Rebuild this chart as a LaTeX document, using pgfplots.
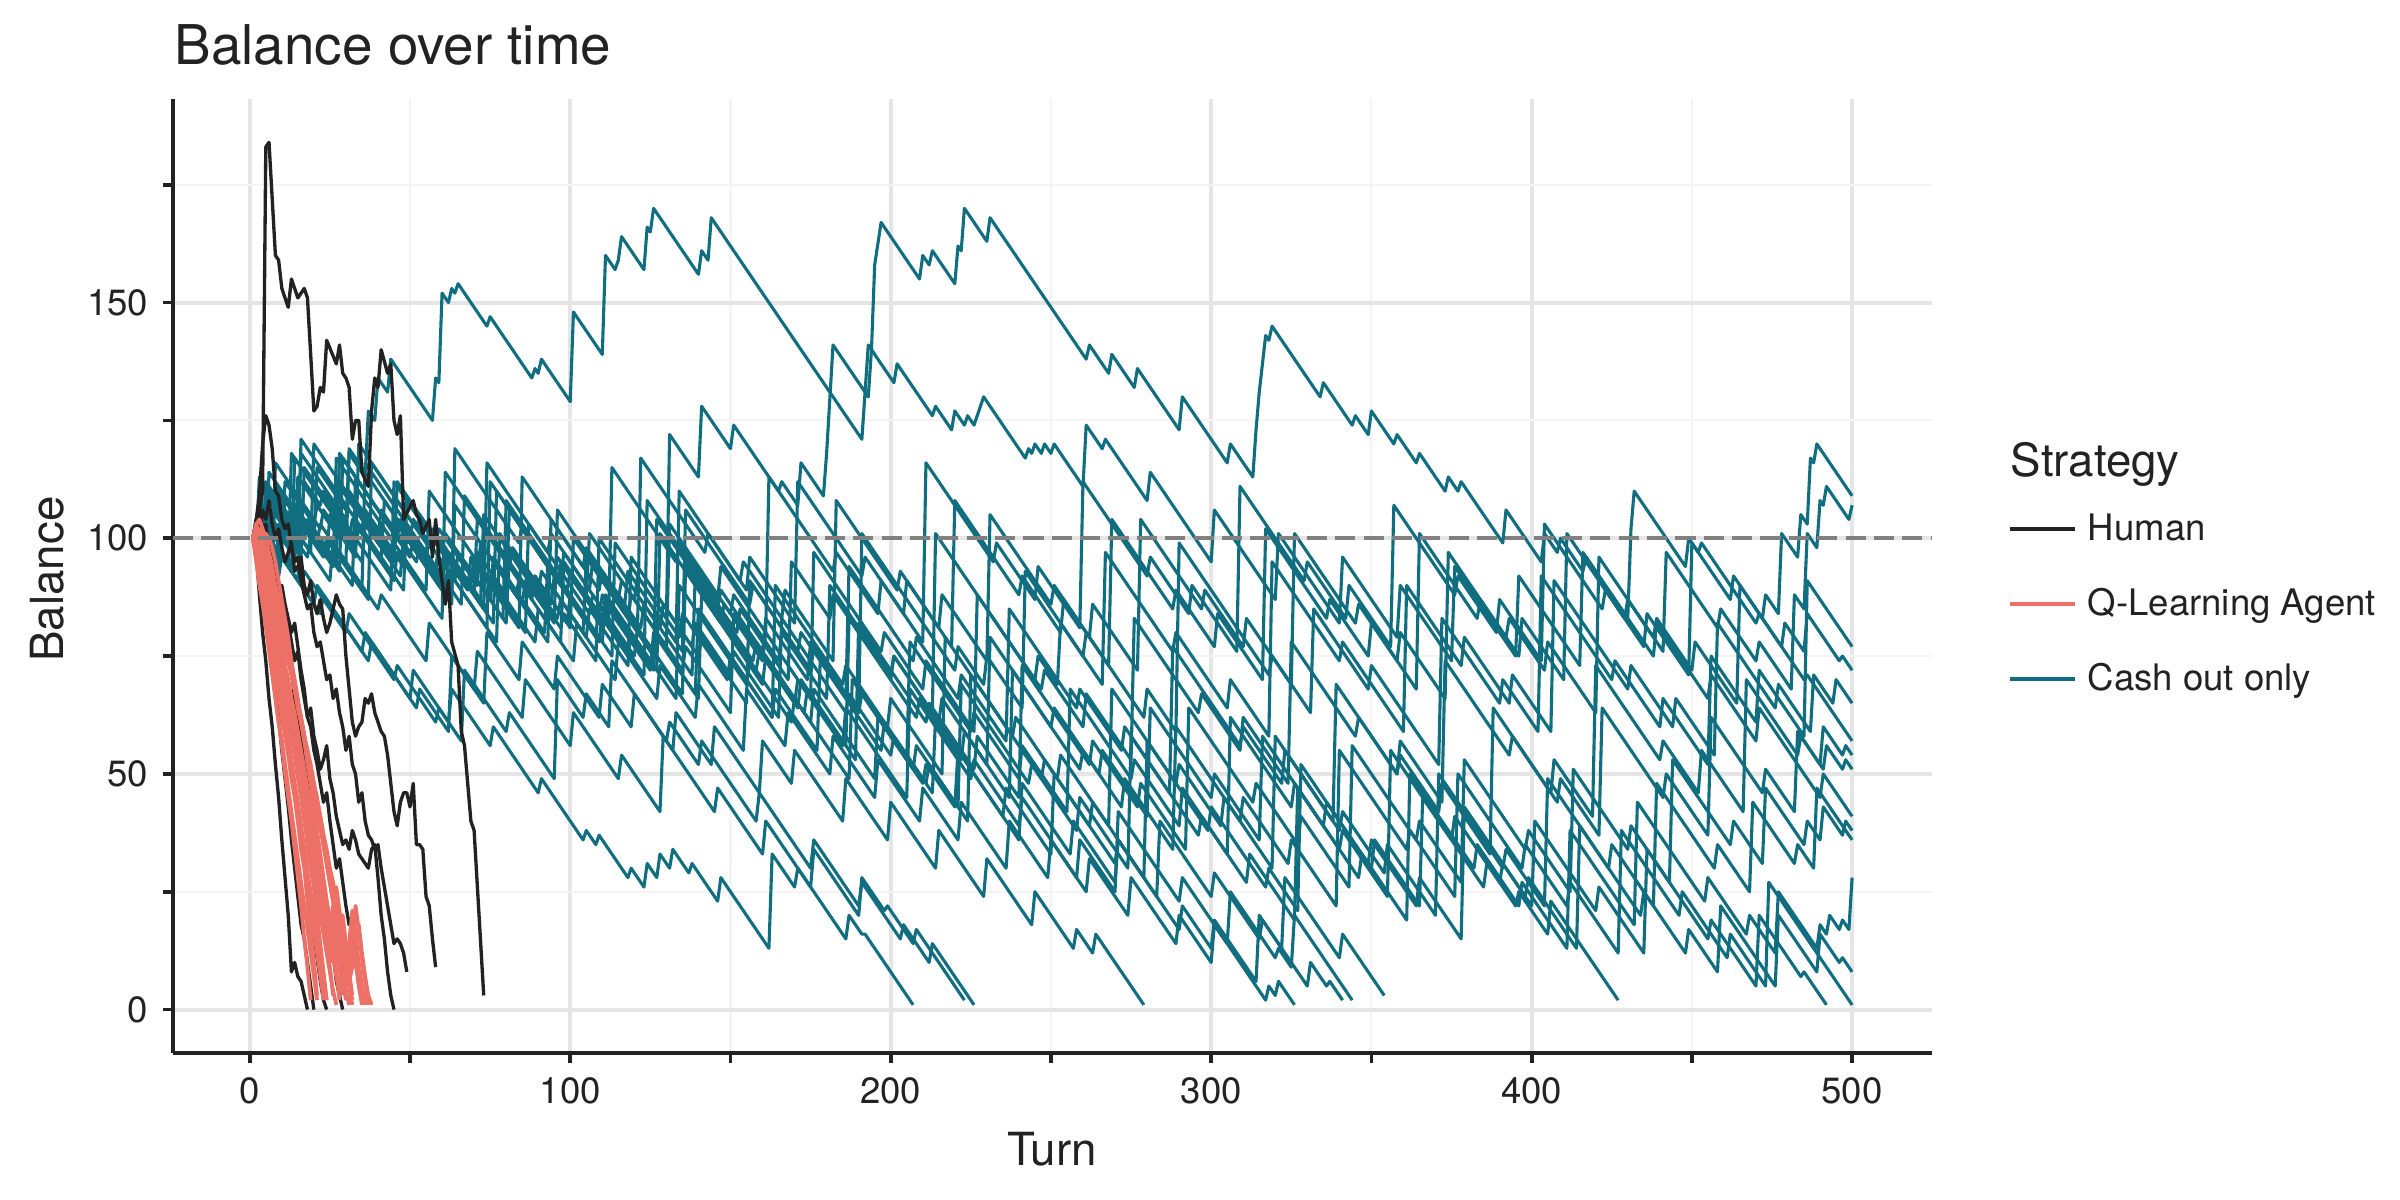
\documentclass[border=0pt]{standalone}
\usepackage{pgfplots}
\pgfplotsset{compat=1.18}
\usepackage{fontspec}
\setmainfont{TeX Gyre Heros}
\definecolor{cteal}{RGB}{16,110,128}
\definecolor{csalmon}{RGB}{236,112,102}
\definecolor{cblack}{RGB}{34,34,34}
\definecolor{cgrid}{RGB}{229,229,229}
\definecolor{cminor}{RGB}{244,244,244}
\definecolor{cdash}{RGB}{128,128,128}
\pgfplotsset{
  cash/.style={cteal, line width=0.75pt, line join=round, forget plot},
  human/.style={cblack, line width=0.8pt, line join=round, forget plot},
  qlearn/.style={csalmon, line width=0.9pt, line join=round, forget plot},
}
\begin{document}
\begin{tikzpicture}
\path[use as bounding box] (0,0) rectangle (20.32cm,10.16cm);
\begin{axis}[
  at={(1.465cm,1.245cm)}, anchor=south west,
  width=14.893cm, height=8.077cm, scale only axis,
  xmin=-23.95, xmax=524.95, ymin=-9.2, ymax=193.2,
  axis x line*=bottom, axis y line*=left,
  axis line style={line width=1.1pt, draw=cblack, -},
  xtick={0,100,200,300,400,500}, minor xtick={50,150,250,350,450},
  ytick={0,50,100,150}, minor ytick={25,75,125,175},
  grid=both,
  major grid style={line width=1pt, draw=cgrid},
  minor grid style={line width=0.5pt, draw=cminor},
  tick align=outside,
  major tick length=2.5pt, minor tick length=2.5pt,
  every tick/.style={line width=0.9pt, draw=cblack},
  ticklabel style={font=\fontsize{8.8}{10}\selectfont, text=cblack},
  /pgf/number format/assume math mode=true,
  legend style={at={(axis description cs:1.0433,0.5748)}, anchor=north west,
    draw=none, fill=none, inner sep=0pt, outer sep=0pt,
    font=\fontsize{8.8}{10}\selectfont, text=cblack,
    nodes={inner sep=0pt, text height=0.3cm, text depth=0.335cm},
    /tikz/every odd column/.style={column sep=0.093cm}, row sep=0pt},
  legend cell align=left,
  legend image code/.code={\draw[#1] (0cm,0.11cm) -- (0.55cm,0.11cm);},
]
\addlegendimage{cblack, line width=0.9pt}\addlegendentry{Human}
\addlegendimage{csalmon, line width=0.9pt}\addlegendentry{Q-Learning Agent}
\addlegendimage{cteal, line width=0.9pt}\addlegendentry{Cash out only}

% ---------------- Cash out only ----------------
\addplot[cash] coordinates {(1,100)(5,96)(6,104)(10,100)(11,108)(16,103)(17,112)(22,107)(23,110)(30,103)(31,118)(36,113)(37,127)(39,125)(40,134)(43,131)(44,138)(57,125)(58,134)(59,133)(60,152)(62,150)(63,153)(64,152)(65,154)(74,145)(75,147)(88,134)(89,136)(90,135)(91,138)(100,129)(101,148)(110,139)(111,160)(114,157)(115,159)(116,164)(123,157)(124,166)(125,165)(126,170)(140,156)(141,161)(143,159)(144,168)(191,121)(192,131)(193,130)(194,140)(195,158)(197,167)(209,155)(210,160)(212,158)(213,161)(220,154)(221,162)(222,161)(223,170)(230,163)(231,168)(261,138)(262,141)(268,135)(269,139)(276,132)(277,136)(290,123)(291,130)(305,116)(306,120)(313,113)(314,123)(315,131)(317,143)(318,142)(319,145)(334,130)(335,133)(344,124)(345,126)(349,122)(350,127)(357,120)(358,122)(364,116)(365,118)(373,110)(374,113)(377,110)(378,112)(391,99)(392,106)(403,95)(404,101)(408,97)(409,100)(416,93)(417,96)(438,75)(439,82)(455,66)(456,71)(470,57)(471,64)(490,45)(491,50)(500,41)};
\addplot[cash] coordinates {(1,100)(4,97)(5,109)(12,102)(13,106)(20,99)(21,115)(30,106)(31,110)(45,96)(46,104)(58,92)(59,99)(70,88)(71,97)(80,88)(81,106)(95,92)(96,96)(105,87)(106,101)(120,87)(121,92)(130,83)(131,122)(140,113)(141,128)(150,119)(151,124)(165,110)(166,112)(171,107)(172,116)(179,109)(180,118)(182,141)(192,131)(193,141)(201,133)(202,137)(213,126)(214,128)(219,123)(220,127)(223,124)(224,126)(226,124)(229,130)(242,117)(243,119)(244,118)(245,120)(247,118)(248,120)(250,118)(251,120)(260,111)(261,124)(266,119)(267,121)(280,108)(281,114)(300,95)(301,106)(320,87)(321,101)(340,82)(341,96)(358,79)(359,90)(375,74)(376,94)(395,75)(396,92)(415,73)(416,97)(430,83)(431,102)(432,110)(448,94)(449,100)(452,97)(453,99)(470,82)(471,84)(485,70)(486,71)(500,57)};
\addplot[cash] coordinates {(1,100)(8,93)(9,97)(20,86)(21,90)(35,76)(36,80)(50,66)(51,72)(62,61)(63,68)(75,56)(76,60)(90,46)(91,49)(104,36)(105,38)(108,35)(109,37)(118,28)(119,30)(123,26)(124,31)(127,28)(128,33)(131,30)(132,34)(137,29)(138,31)(146,23)(147,28)(162,13)(163,33)(170,26)(171,30)(186,15)(187,20)(191,16)(192,16)(207,1)};
\addplot[cash] coordinates {(1,100)(6,95)(7,103)(14,96)(15,101)(25,91)(26,99)(40,85)(41,88)(55,74)(56,82)(70,68)(71,76)(85,62)(86,70)(100,56)(101,63)(115,49)(116,54)(128,42)(129,58)(145,42)(146,47)(160,33)(161,40)(175,26)(176,34)(190,20)(191,28)(198,21)(199,22)(207,14)(208,17)(223,2)};
\addplot[cash] coordinates {(1,100)(3,98)(4,102)(16,90)(17,93)(30,80)(31,84)(45,70)(46,73)(58,61)(59,64)(66,57)(67,72)(80,59)(81,63)(95,49)(96,70)(104,62)(105,67)(112,60)(113,74)(130,57)(131,61)(140,52)(141,57)(158,40)(159,46)(175,30)(176,36)(190,22)(191,27)(203,15)(204,18)(212,10)(213,14)(226,1)};
\addplot[cash] coordinates {(1,100)(9,92)(10,96)(22,84)(23,88)(37,74)(38,78)(52,64)(53,68)(62,59)(63,75)(73,65)(74,80)(84,70)(85,78)(95,68)(96,75)(109,62)(110,69)(119,60)(120,67)(132,55)(133,63)(144,52)(145,60)(159,46)(160,57)(169,48)(170,55)(185,40)(186,49)(199,36)(200,44)(214,30)(215,38)(229,24)(230,32)(244,18)(245,25)(257,13)(258,17)(263,12)(264,16)(279,1)};
\addplot[cash] coordinates {(1,100)(5,96)(6,105)(13,98)(14,106)(24,96)(25,105)(35,95)(36,103)(47,92)(48,101)(61,88)(62,97)(74,85)(75,92)(89,78)(90,85)(101,74)(102,82)(114,70)(115,78)(127,66)(128,73)(139,62)(140,69)(154,55)(155,68)(167,56)(168,63)(181,50)(182,58)(195,45)(196,53)(209,40)(210,47)(221,36)(222,44)(236,30)(237,40)(249,28)(250,36)(261,25)(262,32)(274,20)(275,28)(289,14)(290,20)(300,10)(301,18)(317,2)(318,5)(320,3)(321,6)(326,1)};
\addplot[cash] coordinates {(1,100)(4,97)(5,110)(15,100)(16,118)(30,104)(31,109)(45,95)(46,112)(60,98)(61,101)(75,87)(76,96)(92,80)(93,95)(110,78)(111,86)(125,72)(126,80)(140,66)(141,88)(160,69)(161,75)(175,61)(176,68)(195,49)(196,62)(210,48)(211,52)(220,43)(221,55)(240,36)(241,48)(256,33)(257,40)(270,27)(271,36)(290,17)(291,22)(300,13)(301,19)(314,6)(315,20)(330,5)(331,10)(336,5)(337,6)(341,2)};
\addplot[cash] coordinates {(1,100)(7,94)(8,116)(22,102)(23,106)(33,96)(34,120)(52,102)(53,105)(70,88)(71,104)(88,87)(89,92)(100,81)(101,100)(118,83)(119,88)(135,72)(136,77)(150,63)(151,84)(170,65)(171,70)(185,56)(186,64)(205,45)(206,68)(225,49)(226,53)(240,39)(241,45)(258,28)(259,36)(270,25)(271,42)(290,23)(291,28)(305,14)(306,25)(320,11)(321,13)(325,9)(326,20)(344,2)};
\addplot[cash] coordinates {(1,100)(3,98)(4,104)(10,98)(11,112)(20,103)(21,107)(28,100)(29,117)(45,101)(46,104)(60,90)(61,97)(72,86)(73,105)(90,88)(91,93)(105,79)(106,85)(118,73)(119,96)(138,77)(139,82)(150,71)(151,76)(165,62)(166,83)(186,63)(187,67)(200,54)(201,58)(213,46)(214,62)(235,41)(236,47)(250,33)(251,50)(270,31)(271,36)(283,24)(284,40)(300,24)(301,29)(315,15)(316,19)(322,13)(323,28)(340,11)(341,16)(354,3)};
\addplot[cash] coordinates {(1,100)(5,96)(6,108)(18,96)(19,101)(26,94)(27,112)(40,99)(41,103)(55,89)(56,110)(72,94)(73,98)(85,86)(86,91)(95,82)(96,106)(115,87)(116,91)(130,77)(131,103)(150,84)(151,88)(165,74)(166,80)(180,66)(181,90)(200,71)(201,75)(215,61)(216,66)(230,52)(231,79)(250,60)(251,64)(265,50)(266,55)(280,41)(281,64)(300,45)(301,50)(315,36)(316,58)(335,39)(336,44)(350,30)(351,36)(365,22)(366,45)(385,26)(386,31)(395,22)(396,25)(405,16)(406,23)(427,2)};
\addplot[cash] coordinates {(1,100)(8,93)(9,103)(16,96)(17,115)(33,99)(34,103)(48,89)(49,108)(66,91)(67,95)(80,82)(81,97)(97,81)(98,84)(108,74)(109,100)(128,81)(129,86)(140,75)(141,79)(155,65)(156,91)(175,72)(176,77)(190,63)(191,67)(205,53)(206,78)(225,59)(226,63)(240,49)(241,56)(255,42)(256,68)(275,49)(276,53)(290,39)(291,47)(305,33)(306,62)(325,43)(326,48)(340,34)(341,38)(355,24)(356,55)(375,36)(376,41)(390,27)(391,31)(400,22)(401,40)(420,21)(421,26)(435,12)(436,34)(455,15)(456,19)(470,5)(471,20)(484,7)(485,8)(492,1)};
\addplot[cash] coordinates {(1,100)(3,98)(4,106)(14,96)(15,113)(27,101)(28,105)(44,89)(45,112)(58,99)(59,102)(71,90)(72,99)(93,78)(94,104)(109,89)(110,93)(122,81)(123,86)(138,71)(139,92)(157,74)(158,78)(173,63)(174,68)(186,56)(187,83)(208,62)(209,66)(222,53)(223,59)(237,45)(238,72)(259,51)(260,55)(272,43)(273,49)(288,34)(289,60)(309,40)(310,45)(324,31)(325,36)(339,22)(340,55)(361,34)(362,38)(376,24)(377,50)(397,30)(398,35)(411,22)(412,27)(427,12)(428,38)(446,20)(447,25)(461,11)(462,16)(473,5)(474,27)(500,1)};
\addplot[cash] coordinates {(1,100)(6,95)(7,99)(13,93)(14,117)(33,98)(34,102)(41,95)(42,108)(61,89)(62,93)(77,78)(78,101)(96,83)(97,87)(104,80)(105,96)(126,75)(127,79)(139,67)(140,85)(163,62)(164,68)(177,55)(178,74)(197,55)(198,61)(211,48)(212,52)(224,40)(225,71)(247,49)(248,53)(262,39)(263,44)(279,28)(280,57)(299,38)(300,43)(317,26)(318,30)(327,21)(328,52)(349,31)(350,36)(364,22)(365,28)(378,15)(379,43)(398,24)(399,28)(414,13)(415,39)(434,20)(435,25)(448,12)(449,17)(458,8)(459,22)(476,5)(477,20)(489,8)(490,16)(496,10)(497,11)(500,8)};
\addplot[cash] coordinates {(1,100)(4,97)(5,112)(17,100)(18,104)(32,90)(33,113)(50,96)(51,100)(63,88)(64,107)(83,88)(84,91)(97,78)(98,95)(118,75)(119,80)(133,66)(134,90)(155,69)(156,74)(169,61)(170,66)(187,49)(188,70)(207,51)(208,56)(221,43)(222,69)(243,48)(244,52)(258,38)(259,45)(274,30)(275,58)(296,37)(297,41)(311,27)(312,33)(326,19)(327,47)(346,28)(347,33)(361,19)(362,50)(382,30)(383,35)(396,22)(397,27)(411,13)(412,38)(432,18)(433,44)(454,23)(455,28)(467,16)(468,20)(476,12)(477,25)(489,13)(490,18)(492,16)(493,20)(496,17)(497,19)(499,17)(500,28)};
\addplot[cash] coordinates {(1,100)(2,99)(3,108)(11,100)(12,104)(19,97)(20,120)(40,100)(41,106)(52,95)(53,99)(66,86)(67,109)(88,88)(89,92)(99,82)(100,88)(113,75)(114,99)(134,79)(135,84)(149,70)(150,75)(163,62)(164,90)(185,69)(186,73)(199,60)(200,66)(216,50)(217,79)(238,58)(239,62)(252,49)(253,54)(268,39)(269,68)(289,48)(290,52)(303,39)(304,45)(319,30)(320,58)(340,38)(341,42)(354,29)(355,35)(370,20)(371,50)(391,30)(392,34)(404,22)(405,49)(424,30)(425,35)(438,22)(439,48)(457,30)(458,35)(468,25)(469,44)(482,31)(483,35)(488,30)(489,47)(500,36)};
\addplot[cash] coordinates {(1,100)(9,92)(10,110)(24,96)(25,99)(37,87)(38,116)(56,98)(57,102)(69,90)(70,96)(86,80)(87,103)(106,84)(107,88)(120,75)(121,81)(135,67)(136,94)(158,72)(159,76)(171,64)(172,70)(189,53)(190,82)(211,61)(212,65)(226,51)(227,58)(240,45)(241,73)(262,52)(263,57)(277,43)(278,48)(292,34)(293,64)(313,44)(314,48)(327,35)(328,41)(343,26)(344,56)(364,36)(365,40)(378,27)(379,53)(398,34)(399,38)(412,25)(413,51)(430,34)(431,39)(443,27)(444,53)(462,35)(463,40)(472,31)(473,47)(485,35)(486,40)(490,36)(491,43)(497,37)(498,40)(500,38)};
\addplot[cash] coordinates {(1,100)(8,93)(9,97)(15,91)(16,104)(26,94)(27,117)(45,99)(46,103)(59,90)(60,95)(74,81)(75,112)(96,91)(97,95)(109,83)(110,88)(126,72)(127,84)(135,76)(136,106)(156,86)(157,90)(171,76)(172,80)(186,66)(187,94)(207,74)(208,79)(221,66)(222,71)(236,57)(237,85)(258,64)(259,68)(272,55)(273,60)(287,46)(288,77)(309,56)(310,60)(322,48)(323,55)(338,40)(339,69)(358,50)(359,54)(371,42)(372,48)(387,33)(388,64)(408,44)(409,49)(421,37)(422,64)(441,45)(442,50)(455,37)(456,62)(472,46)(473,51)(482,42)(483,59)(491,51)(492,56)(497,51)(498,53)(500,51)};
\addplot[cash] coordinates {(1,100)(5,96)(6,114)(21,99)(22,103)(30,95)(31,119)(50,100)(51,104)(64,91)(65,97)(79,83)(80,108)(99,89)(100,93)(111,82)(112,87)(127,72)(128,101)(147,82)(148,86)(160,74)(161,80)(175,66)(176,97)(197,76)(198,80)(210,68)(211,74)(226,59)(227,88)(247,68)(248,72)(260,60)(261,67)(275,53)(276,83)(296,63)(297,67)(309,55)(310,62)(324,48)(325,78)(345,58)(346,62)(358,50)(359,57)(372,44)(373,74)(393,54)(394,58)(406,46)(407,53)(419,41)(420,73)(440,53)(441,57)(452,46)(453,55)(466,42)(467,70)(483,54)(484,58)(490,52)(491,60)(497,54)(498,56)(500,54)};
\addplot[cash] coordinates {(1,100)(4,97)(5,101)(12,94)(13,118)(31,100)(32,104)(45,91)(46,97)(60,83)(61,114)(81,94)(82,98)(94,86)(95,92)(109,78)(110,84)(123,71)(124,108)(152,80)(153,85)(168,70)(169,95)(181,83)(182,88)(200,70)(201,75)(213,63)(214,101)(245,70)(246,75)(252,69)(253,82)(266,69)(267,97)(288,76)(289,80)(305,64)(306,70)(318,58)(319,95)(340,74)(341,78)(360,59)(361,90)(378,73)(379,79)(393,65)(394,71)(406,59)(407,91)(430,68)(431,73)(444,60)(445,66)(457,54)(458,82)(476,64)(477,69)(487,59)(488,71)(494,65)(495,70)(500,65)};
\addplot[cash] coordinates {(1,100)(7,94)(8,111)(23,96)(24,100)(35,89)(36,116)(55,97)(56,101)(68,89)(69,96)(84,81)(85,113)(104,94)(105,98)(117,86)(118,93)(133,78)(134,110)(153,91)(154,95)(166,83)(167,89)(182,74)(183,108)(202,89)(203,93)(215,81)(216,88)(230,74)(231,105)(250,86)(251,90)(262,79)(263,86)(277,72)(278,104)(297,85)(298,89)(310,77)(311,83)(325,69)(326,101)(345,82)(346,86)(358,74)(359,80)(373,66)(374,97)(392,79)(393,83)(404,72)(405,78)(420,63)(421,96)(438,79)(439,83)(450,72)(451,78)(464,65)(465,90)(478,77)(479,82)(485,76)(486,84)(496,74)(497,75)(500,72)};
\addplot[cash] coordinates {(1,100)(3,98)(4,112)(16,100)(17,104)(28,93)(29,117)(47,99)(48,103)(62,89)(63,95)(76,82)(77,110)(97,90)(98,94)(110,82)(111,88)(126,73)(127,104)(146,85)(147,89)(160,76)(161,83)(174,70)(175,78)(190,63)(191,101)(220,72)(221,77)(229,69)(230,75)(241,64)(242,93)(260,75)(261,80)(279,62)(280,68)(289,59)(290,99)(318,71)(319,75)(331,63)(332,85)(349,68)(350,73)(371,52)(372,83)(390,65)(391,70)(402,59)(403,92)(425,70)(426,74)(440,60)(441,66)(455,52)(456,75)(470,61)(471,72)(485,58)(486,91)(500,77)};
\addplot[cash] coordinates {(1,100)(6,95)(7,106)(15,98)(16,121)(35,102)(36,106)(48,94)(49,100)(63,86)(64,119)(84,99)(85,103)(97,91)(98,97)(112,83)(113,115)(133,95)(134,99)(146,87)(147,94)(161,80)(162,113)(182,93)(183,97)(196,84)(197,91)(210,78)(211,116)(232,95)(233,99)(245,87)(246,94)(259,81)(260,112)(280,92)(281,96)(293,84)(294,90)(308,76)(309,111)(329,91)(330,95)(342,83)(343,90)(356,77)(357,107)(376,88)(377,92)(389,80)(390,87)(403,74)(404,103)(422,85)(423,89)(435,77)(436,84)(449,71)(450,99)(462,87)(463,92)(472,83)(473,88)(477,84)(478,101)(483,96)(484,105)(486,103)(487,117)(488,116)(489,120)(500,109)};
\addplot[cash] coordinates {(1,100)(2,99)(3,113)(14,102)(15,106)(27,94)(28,118)(46,100)(47,104)(58,93)(59,99)(73,85)(74,116)(93,97)(94,101)(106,89)(107,95)(121,81)(122,117)(142,97)(143,101)(155,89)(156,96)(170,82)(171,112)(191,92)(192,96)(204,84)(205,91)(219,77)(220,108)(240,88)(241,92)(253,80)(254,87)(268,73)(269,104)(288,85)(289,89)(301,77)(302,84)(316,70)(317,102)(336,83)(337,87)(349,75)(350,82)(364,68)(365,101)(383,83)(384,87)(396,75)(397,83)(410,70)(411,101)(429,83)(430,87)(441,76)(442,97)(458,81)(459,85)(470,74)(471,78)(481,68)(482,88)(485,85)(486,101)(489,98)(490,108)(491,107)(492,111)(499,104)(500,107)};

% ---------------- Human ----------------
\addplot[human] coordinates {(1,100)(2,103)(3,106)(4,110)(5,183)(6,184)(8,160)(9,159)(10,153)(12,149)(13,155)(15,151)(17,153)(18,151)(20,127)(21,128)(22,132)(23,131)(24,142)(27,137)(28,141)(29,135)(30,134)(31,132)(32,121)(33,125)(34,125)(35,114)(37,111)(38,127)(39,134)(40,132)(41,140)(43,135)(44,137)(45,125)(46,122)(47,126)(48,104)(51,108)(52,105)(53,104)(54,101)(56,104)(57,96)(58,104)(59,96)(61,86)(62,91)(63,78)(65,73)(66,59)(67,56)(69,40)(70,38)(73,3)};
\addplot[human] coordinates {(1,100)(2,104)(3,109)(4,120)(5,126)(6,124)(7,119)(8,110)(9,109)(10,104)(11,102)(12,103)(13,98)(14,95)(15,96)(16,91)(17,88)(18,85)(19,86)(20,80)(21,77)(22,78)(23,74)(24,70)(25,71)(26,66)(27,68)(28,63)(29,60)(30,55)(31,58)(32,52)(33,50)(34,44)(35,46)(36,40)(37,37)(38,36)(39,34)(40,35)(41,30)(42,26)(43,22)(44,18)(45,14)(46,15)(47,14)(48,12)(49,8)};
\addplot[human] coordinates {(1,100)(2,103)(3,101)(4,106)(5,104)(6,108)(7,103)(8,100)(9,102)(10,98)(11,95)(12,97)(13,99)(14,93)(15,94)(16,96)(17,90)(18,88)(19,91)(20,86)(21,84)(22,87)(23,83)(24,80)(25,82)(26,85)(27,88)(28,86)(29,85)(30,75)(31,68)(32,61)(33,58)(34,60)(35,61)(36,66)(37,65)(38,67)(39,63)(40,61)(41,59)(42,58)(43,54)(44,48)(45,42)(46,39)(47,44)(48,46)(49,46)(50,43)(51,48)(52,35)(53,35)(54,34)(55,24)(56,22)(57,15)(58,9)};
\addplot[human] coordinates {(1,100)(2,97)(3,102)(4,98)(5,94)(6,96)(7,91)(8,88)(9,90)(10,85)(11,80)(12,82)(13,78)(14,74)(15,76)(16,70)(17,66)(18,62)(19,64)(20,58)(21,55)(22,51)(23,53)(24,56)(25,49)(26,46)(27,41)(28,38)(29,35)(30,36)(31,34)(32,38)(33,36)(34,33)(35,32)(36,31)(37,30)(38,34)(39,35)(40,28)(41,20)(42,15)(43,8)(44,3)(45,0)};
\addplot[human] coordinates {(1,100)(2,97)(3,88)(4,80)(5,74)(6,66)(7,60)(8,52)(9,45)(10,36)(11,28)(12,20)(13,8)(14,10)(15,7)(16,6)(17,3)(18,0)};
\addplot[human] coordinates {(1,100)(2,103)(3,98)(4,92)(5,86)(6,80)(7,75)(8,69)(9,62)(10,55)(11,49)(12,43)(13,36)(14,30)(15,24)(16,18)(17,15)(18,10)(19,5)(20,0)};
\addplot[human] coordinates {(1,100)(2,104)(3,99)(4,95)(5,92)(6,86)(7,82)(8,77)(9,72)(10,68)(11,63)(12,57)(13,52)(14,47)(15,43)(16,37)(17,32)(18,27)(19,22)(20,16)(21,11)(22,6)(23,2)(24,0)};
\addplot[human] coordinates {(1,100)(2,102)(3,106)(4,100)(5,103)(6,98)(7,96)(8,91)(9,88)(10,84)(11,79)(12,76)(13,72)(14,66)(15,61)(16,58)(17,53)(18,48)(19,44)(20,38)(21,33)(22,28)(23,26)(24,20)(25,14)(26,12)(27,6)(28,3)(29,0)};
\addplot[human] coordinates {(1,100)(2,101)(3,97)(4,103)(5,99)(6,95)(7,97)(8,92)(9,88)(10,90)(11,86)(12,83)(13,80)(14,82)(15,77)(16,72)(17,68)(18,62)(19,60)(20,55)(21,52)(22,48)(23,44)(24,46)(25,40)(26,35)(27,30)(28,32)(29,27)(30,22)(31,18)(32,20)(33,14)(34,9)(35,4)(36,1)};

% ---------------- Q-Learning Agent ----------------
\addplot[qlearn] coordinates {(1,100)(2,97)(3,92)(4,87)(5,83)(6,77)(7,72)(8,66)(9,61)(10,56)(11,50)(12,45)(13,40)(14,34)(15,28)(16,22)(17,15)(18,9)(19,2)};
\addplot[qlearn] coordinates {(1,100)(2,102)(3,97)(4,93)(5,88)(6,84)(7,79)(8,74)(9,70)(10,65)(11,60)(12,56)(13,50)(14,46)(15,40)(16,34)(17,30)(18,23)(19,17)(20,10)(21,3)};
\addplot[qlearn] coordinates {(1,100)(2,98)(3,95)(4,90)(5,87)(6,83)(7,78)(8,75)(9,70)(10,66)(11,62)(12,57)(13,53)(14,48)(15,44)(16,39)(17,34)(18,29)(19,24)(20,18)(21,13)(22,8)(23,2)};
\addplot[qlearn] coordinates {(1,100)(2,103)(3,101)(4,97)(5,92)(6,89)(7,85)(8,80)(9,76)(10,72)(11,67)(12,63)(13,58)(14,54)(15,49)(16,45)(17,40)(18,35)(19,30)(20,26)(21,20)(22,14)(23,8)(24,2)};
\addplot[qlearn] coordinates {(1,100)(2,101)(3,99)(4,96)(5,93)(6,89)(7,86)(8,82)(9,78)(10,75)(11,71)(12,67)(13,63)(14,59)(15,55)(16,51)(17,46)(18,42)(19,38)(20,33)(21,28)(22,23)(23,18)(24,12)(25,9)(26,3)};
\addplot[qlearn] coordinates {(1,100)(2,99)(3,102)(4,100)(5,96)(6,92)(7,89)(8,85)(9,81)(10,77)(11,73)(12,69)(13,65)(14,61)(15,57)(16,53)(17,49)(18,45)(19,40)(20,36)(21,31)(22,26)(23,21)(24,16)(25,10)(26,15)(27,8)(28,2)};
\addplot[qlearn] coordinates {(1,100)(2,96)(3,98)(4,100)(5,101)(6,100)(7,98)(8,95)(9,91)(10,87)(11,83)(12,79)(13,74)(14,70)(15,66)(16,61)(17,57)(18,52)(19,48)(20,43)(21,38)(22,33)(23,28)(24,23)(25,18)(26,22)(27,15)(28,9)(29,3)};
\addplot[qlearn] coordinates {(1,100)(2,100)(3,97)(4,95)(5,92)(6,90)(7,86)(8,83)(9,80)(10,77)(11,73)(12,70)(13,66)(14,63)(15,59)(16,55)(17,51)(18,47)(19,43)(20,39)(21,35)(22,31)(23,27)(24,23)(25,19)(26,15)(27,18)(28,12)(29,7)(30,2)};
\addplot[qlearn] coordinates {(1,100)(2,98)(3,101)(4,99)(5,97)(6,94)(7,92)(8,88)(9,85)(10,82)(11,79)(12,75)(13,72)(14,68)(15,65)(16,61)(17,58)(18,54)(19,50)(20,47)(21,43)(22,39)(23,35)(24,31)(25,27)(26,23)(27,19)(28,15)(29,20)(30,14)(31,8)(32,3)};
\addplot[qlearn] coordinates {(1,100)(2,101)(3,98)(4,97)(5,95)(6,92)(7,90)(8,87)(9,84)(10,81)(11,78)(12,75)(13,72)(14,69)(15,65)(16,62)(17,58)(18,55)(19,51)(20,48)(21,44)(22,41)(23,37)(24,33)(25,29)(26,25)(27,21)(28,17)(29,13)(30,9)(31,14)(32,21)(33,16)(34,10)(35,5)(36,1)};
\addplot[qlearn] coordinates {(1,100)(2,99)(3,97)(4,96)(5,94)(6,92)(7,89)(8,87)(9,84)(10,81)(11,78)(12,75)(13,72)(14,68)(15,65)(16,62)(17,58)(18,55)(19,52)(20,48)(21,45)(22,41)(23,37)(24,34)(25,30)(26,27)(27,23)(28,19)(29,16)(30,12)(31,9)(32,14)(33,22)(34,17)(35,11)(36,6)(37,1)};
\addplot[qlearn] coordinates {(1,100)(2,97)(3,94)(4,90)(5,86)(6,82)(7,78)(8,73)(9,69)(10,65)(11,60)(12,56)(13,52)(14,47)(15,43)(16,38)(17,34)(18,29)(19,25)(20,20)(21,16)(22,11)(23,7)(24,2)};
\addplot[qlearn] coordinates {(1,100)(2,96)(3,93)(4,88)(5,85)(6,80)(7,76)(8,71)(9,67)(10,62)(11,58)(12,54)(13,49)(14,45)(15,40)(16,36)(17,31)(18,27)(19,22)(20,17)(21,12)(22,7)(23,3)};
\addplot[qlearn] coordinates {(1,100)(2,101)(3,99)(4,95)(5,91)(6,88)(7,84)(8,81)(9,77)(10,73)(11,70)(12,66)(13,62)(14,58)(15,54)(16,50)(17,47)(18,43)(19,39)(20,35)(21,31)(22,27)(23,23)(24,19)(25,15)(26,11)(27,7)(28,4)(29,9)(30,4)(31,1)};
\addplot[qlearn] coordinates {(1,100)(2,99)(3,96)(4,94)(5,90)(6,87)(7,84)(8,80)(9,77)(10,73)(11,70)(12,66)(13,62)(14,59)(15,55)(16,51)(17,47)(18,43)(19,39)(20,35)(21,31)(22,27)(23,23)(24,19)(25,15)(26,20)(27,26)(28,21)(29,15)(30,10)(31,5)(32,1)};
\addplot[qlearn] coordinates {(1,100)(2,102)(3,100)(4,98)(5,95)(6,93)(7,90)(8,87)(9,84)(10,81)(11,78)(12,74)(13,71)(14,68)(15,64)(16,61)(17,57)(18,54)(19,50)(20,46)(21,43)(22,39)(23,35)(24,31)(25,27)(26,23)(27,19)(28,15)(29,11)(30,7)(31,11)(32,16)(33,10)(34,5)(35,1)};
\addplot[qlearn] coordinates {(1,100)(2,97)(3,95)(4,91)(5,88)(6,85)(7,81)(8,78)(9,74)(10,70)(11,66)(12,62)(13,58)(14,54)(15,50)(16,46)(17,42)(18,38)(19,33)(20,29)(21,25)(22,20)(23,16)(24,12)(25,8)(26,4)(27,1)};
\addplot[qlearn] coordinates {(1,100)(2,100)(3,98)(4,97)(5,94)(6,92)(7,89)(8,86)(9,83)(10,80)(11,77)(12,74)(13,71)(14,68)(15,64)(16,61)(17,58)(18,54)(19,51)(20,47)(21,44)(22,40)(23,36)(24,33)(25,29)(26,25)(27,21)(28,17)(29,13)(30,10)(31,6)(32,9)(33,14)(34,18)(35,12)(36,7)(37,3)(38,1)};
\addplot[qlearn] coordinates {(1,100)(2,95)(3,90)(4,86)(5,81)(6,76)(7,71)(8,66)(9,61)(10,57)(11,52)(12,47)(13,42)(14,37)(15,32)(16,27)(17,22)(18,17)(19,12)(20,7)(21,2)};
\addplot[qlearn] coordinates {(1,100)(2,103)(3,104)(4,102)(5,100)(6,97)(7,94)(8,90)(9,87)(10,83)(11,80)(12,76)(13,73)(14,69)(15,65)(16,62)(17,58)(18,54)(19,51)(20,47)(21,43)(22,39)(23,35)(24,31)(25,27)(26,23)(27,19)(28,15)(29,12)(30,8)(31,5)(32,2)};

% reference line at 100
\addplot[cdash, line width=0.85pt, dash pattern=on 0.17cm off 0.07cm, forget plot] coordinates {(-23.95,100)(524.95,100)};
\end{axis}
\node[inner sep=0pt, anchor=base west, font=\fontsize{13.2}{15}\selectfont, text=cblack] at (1.473cm,9.61cm) {Balance over time};
\node[inner sep=0pt, anchor=base, font=\fontsize{11}{13}\selectfont, text=cblack] at (8.907cm,0.288cm) {Turn};
\node[inner sep=0pt, rotate=90, font=\fontsize{11}{13}\selectfont, text=cblack] at (0.398cm,5.258cm) {Balance};
\node[inner sep=0pt, anchor=base west, font=\fontsize{11}{13}\selectfont, text=cblack] at (17.018cm,6.122cm) {Strategy};
\end{tikzpicture}
\end{document}
